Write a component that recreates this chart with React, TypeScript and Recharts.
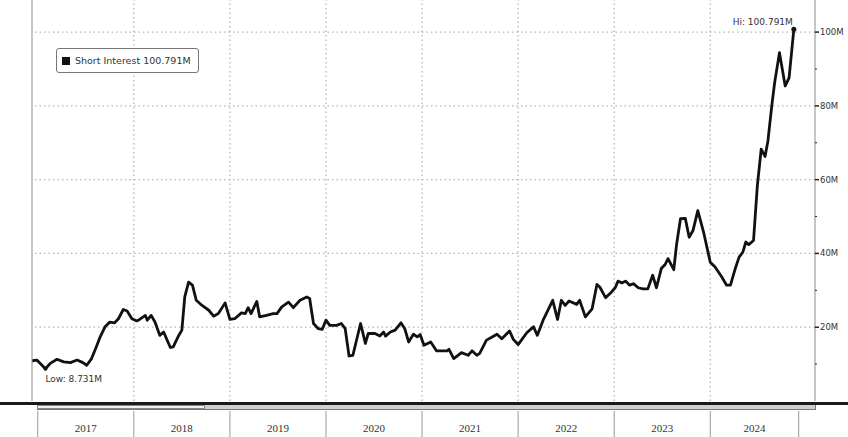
import React from 'react';
import { LineChart, Line, XAxis, YAxis, ReferenceLine, ReferenceDot } from 'recharts';

// decimal-year dates of observations
const dates = [
  2016.94, 2016.99, 2017.08, 2017.13, 2017.2, 2017.27, 2017.34, 2017.41, 2017.47, 2017.51,
  2017.56, 2017.61, 2017.65, 2017.7, 2017.75, 2017.8, 2017.84, 2017.89, 2017.93, 2017.98,
  2018.03, 2018.06, 2018.12, 2018.14, 2018.18, 2018.22, 2018.27, 2018.31, 2018.38, 2018.41,
  2018.46, 2018.5, 2018.53, 2018.57, 2018.61, 2018.65, 2018.71, 2018.78, 2018.83, 2018.88,
  2018.95, 2019.0, 2019.05, 2019.12, 2019.16, 2019.19, 2019.22, 2019.28, 2019.31, 2019.38,
  2019.45, 2019.49, 2019.54, 2019.61, 2019.66, 2019.73, 2019.8, 2019.83, 2019.87, 2019.92,
  2019.96, 2020.0, 2020.04, 2020.11, 2020.16, 2020.2, 2020.24, 2020.28, 2020.36, 2020.41,
  2020.44, 2020.51, 2020.56, 2020.6, 2020.62, 2020.67, 2020.72, 2020.78, 2020.82, 2020.86,
  2020.91, 2020.95, 2020.98, 2021.02, 2021.09, 2021.15, 2021.26, 2021.28, 2021.33, 2021.41,
  2021.48, 2021.52, 2021.57, 2021.6, 2021.67, 2021.72, 2021.78, 2021.83, 2021.91, 2021.95,
  2022.0, 2022.09, 2022.16, 2022.2, 2022.26, 2022.36, 2022.41, 2022.45, 2022.49, 2022.53,
  2022.61, 2022.64, 2022.7, 2022.77, 2022.82, 2022.85, 2022.91, 2022.97, 2023.01, 2023.04,
  2023.08, 2023.12, 2023.16, 2023.2, 2023.25, 2023.3, 2023.35, 2023.4, 2023.44, 2023.49,
  2023.53, 2023.56, 2023.62, 2023.65, 2023.69, 2023.74, 2023.78, 2023.82, 2023.87, 2023.93,
  2024.0, 2024.05, 2024.12, 2024.17, 2024.21, 2024.26, 2024.3, 2024.34, 2024.37, 2024.4,
  2024.45, 2024.49, 2024.53, 2024.57, 2024.6, 2024.64, 2024.67, 2024.72, 2024.78, 2024.82,
  2024.87,
];

// short interest, millions of shares
const shortInterest = [
  10.9, 11.1, 8.731, 10.2, 11.3, 10.6, 10.4, 11.1, 10.4, 9.7,
  11.5, 14.7, 17.4, 20.1, 21.4, 21.2, 22.3, 24.8, 24.4, 22.3,
  21.7, 22.1, 23.2, 21.9, 23.2, 21.4, 17.8, 18.7, 14.5, 14.7,
  17.4, 19.2, 28.2, 32.2, 31.4, 27.3, 25.9, 24.6, 23.0, 23.7,
  26.6, 22.1, 22.3, 23.9, 23.7, 25.3, 23.7, 27.0, 22.8, 23.2,
  23.7, 23.7, 25.5, 26.8, 25.3, 27.3, 28.2, 27.8, 21.0, 19.6,
  19.4, 21.9, 20.5, 20.5, 21.0, 19.6, 12.2, 12.4, 21.0, 15.6,
  18.3, 18.3, 17.6, 18.7, 17.6, 18.7, 19.2, 21.2, 19.6, 16.0,
  18.1, 17.4, 18.0, 15.1, 16.0, 13.6, 13.6, 14.0, 11.5, 13.1,
  12.4, 13.6, 12.4, 12.9, 16.5, 17.2, 18.1, 16.9, 19.0, 16.7,
  15.3, 18.5, 20.1, 17.8, 21.9, 27.3, 22.1, 27.3, 25.9, 27.1,
  26.2, 27.3, 22.8, 25.0, 31.6, 30.9, 28.0, 29.5, 30.7, 32.5,
  32.0, 32.5, 31.4, 31.8, 30.7, 30.4, 30.4, 34.1, 30.7, 35.9,
  37.0, 38.6, 35.6, 42.6, 49.4, 49.5, 44.4, 46.2, 51.6, 45.8,
  37.6, 36.3, 33.6, 31.4, 31.4, 35.9, 39.0, 40.4, 43.1, 42.4,
  43.5, 58.4, 68.3, 66.3, 70.5, 80.0, 86.3, 94.4, 85.4, 87.6,
  100.791,
];

const seriesName = 'Short Interest';
const lastValueLabel = '100.791M';
const hiLabel = 'Hi: 100.791M';
const lowLabel = 'Low: 8.731M';
const hiPoint = { t: 2024.87, v: 100.791 };
const lowPoint = { t: 2017.08, v: 8.731 };

const yearLabels = ['2017', '2018', '2019', '2020', '2021', '2022', '2023', '2024'];
const yearLabelPositions = [2017.5, 2018.5, 2019.5, 2020.5, 2021.5, 2022.5, 2023.5, 2024.46];
const yearSeparators = [2017, 2018, 2019, 2020, 2021, 2022, 2023, 2024, 2024.92];
const gridYears = [2018, 2019, 2020, 2021, 2022, 2023, 2024];
const majorValues = [20, 40, 60, 80, 100];
const allValueTicks = [10, 20, 30, 40, 50, 60, 70, 80, 90, 100];

const data = dates.map((t, i) => ({ t, v: shortInterest[i] }));

const FONT = '"DejaVu Sans", sans-serif';

function YearTick(props: any) {
  const { x, y, payload } = props;
  const v = payload.value;
  const idx = yearLabelPositions.indexOf(v);
  if (idx >= 0) {
    return (
      <text x={x} y={y + 31} textAnchor="middle" fontSize={11} fontFamily='"Liberation Serif", serif' fill="#333">
        {yearLabels[idx]}
      </text>
    );
  }
  return <line x1={x} x2={x} y1={y + 10} y2={y + 36} stroke="#9a9a9a" strokeWidth={1} />;
}

function ValueTick(props: any) {
  const { x, y, payload } = props;
  const v = payload.value;
  const major = majorValues.includes(v);
  return (
    <g>
      <line x1={x} x2={x + (major ? 4 : 2)} y1={y} y2={y} stroke="#222" strokeWidth={major ? 1.5 : 1} />
      {major && (
        <text x={x + 5} y={y + 3} fontSize={8.5} fontFamily={FONT} fill="#333">
          {v}M
        </text>
      )}
    </g>
  );
}

export default function App() {
  return (
    <div style={{ position: 'absolute', left: 0, top: 0, width: 848, height: 437, background: '#fff', overflow: 'hidden' }}>
      <LineChart width={848} height={437} data={data} margin={{ top: 0, right: 0, left: 0, bottom: 0 }}>
        <XAxis
          dataKey="t"
          type="number"
          domain={[2016.94, 2025.09]}
          ticks={[...yearSeparators, ...yearLabelPositions].sort((a, b) => a - b)}
          interval={0}
          tick={<YearTick />}
          tickLine={false}
          axisLine={false}
          tickSize={0}
          tickMargin={0}
          height={36}
          allowDataOverflow
        />
        <YAxis
          yAxisId="left"
          orientation="left"
          domain={[0, 108.7]}
          width={32}
          tick={false}
          tickLine={false}
          axisLine={{ stroke: '#8c8c8c' }}
          allowDataOverflow
        />
        <YAxis
          yAxisId="right"
          orientation="right"
          domain={[0, 108.7]}
          ticks={allValueTicks}
          interval={0}
          width={33}
          tick={<ValueTick />}
          tickLine={false}
          tickSize={0}
          tickMargin={0}
          axisLine={{ stroke: '#8c8c8c' }}
          allowDataOverflow
        />
        {majorValues.map((v) => (
          <ReferenceLine key={'h' + v} yAxisId="right" y={v} stroke="#b5b5b5" strokeDasharray="1.5 3" strokeWidth={1.3} />
        ))}
        {gridYears.map((yr) => (
          <ReferenceLine key={'v' + yr} yAxisId="right" x={yr} stroke="#b5b5b5" strokeDasharray="1.5 3" strokeWidth={1.3} />
        ))}
        <Line
          yAxisId="right"
          dataKey="v"
          type="linear"
          stroke="#111"
          strokeWidth={2.8}
          dot={false}
          isAnimationActive={false}
          strokeLinejoin="round"
        />
        <ReferenceDot
          yAxisId="right"
          x={hiPoint.t}
          y={hiPoint.v}
          r={2.5}
          fill="#111"
          stroke="none"
          label={(p: any) => {
            const vb = p.viewBox || {};
            const cx = vb.x + (vb.width || 0) / 2;
            const cy = vb.y + (vb.height || 0) / 2;
            return (
              <text x={cx - 1} y={cy - 4} textAnchor="end" fontSize={9} fontFamily={FONT} fill="#333">
                {hiLabel}
              </text>
            );
          }}
        />
        <ReferenceDot
          yAxisId="right"
          x={lowPoint.t}
          y={lowPoint.v}
          r={2}
          fill="#111"
          stroke="none"
          label={(p: any) => {
            const vb = p.viewBox || {};
            const cx = vb.x + (vb.width || 0) / 2;
            const cy = vb.y + (vb.height || 0) / 2;
            return (
              <text x={cx} y={cy + 13} textAnchor="start" fontSize={9} fontFamily={FONT} fill="#333">
                {lowLabel}
              </text>
            );
          }}
        />
      </LineChart>
      <div
        style={{
          position: 'absolute',
          left: 56,
          top: 48,
          width: 143,
          border: '1px solid #777',
          borderRadius: 3,
          background: '#fff',
          padding: '0 5px',
          height: 25,
          boxSizing: 'border-box',
          display: 'flex',
          alignItems: 'center',
          fontFamily: FONT,
          fontSize: 9.5,
          color: '#333',
          whiteSpace: 'nowrap',
        }}
      >
        <span style={{ display: 'inline-block', width: 8, height: 8, background: '#111', marginRight: 5, flexShrink: 0 }} />
        {seriesName} {lastValueLabel}
      </div>
      <div style={{ position: 'absolute', left: 0, top: 402, width: 848, height: 3, background: '#1a1a1a' }} />
      <div style={{ position: 'absolute', left: 37, top: 405, width: 778, height: 4, background: '#cfcfcf', borderBottom: '1px solid #777', borderRight: '1px solid #777' }} />
      <div style={{ position: 'absolute', left: 37, top: 405, width: 168, height: 4, background: '#f2f2f2', border: '1px solid #888', boxSizing: 'border-box' }} />
    </div>
  );
}
